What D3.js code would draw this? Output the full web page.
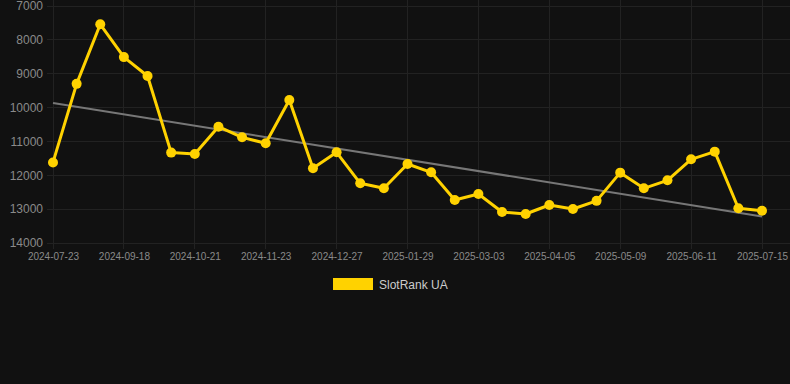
<!DOCTYPE html>
<html><head><meta charset="utf-8">
<script src="https://cdn.jsdelivr.net/npm/d3@7"></script>
<style>html,body{margin:0;padding:0;background:#111111;}svg{display:block;}</style>
</head><body>
<svg id="c" width="790" height="384"></svg>
<script>
const seriesName = "SlotRank UA";
const values = [11620, 9300, 7540, 8510, 9067, 11330, 11370, 10564, 10879, 11055, 9776, 11794, 11321, 12237, 12385, 11666, 11912, 12729, 12552, 13084, 13143, 12877, 12995, 12755, 11922, 12385, 12149, 11528, 11302, 12975, 13045];
const tickLabels = ["2024-07-23","2024-09-18","2024-10-21","2024-11-23","2024-12-27","2025-01-29","2025-03-03","2025-04-05","2025-05-09","2025-06-11","2025-07-15"];
const tickEvery = 3;
const yTicks = [7000, 8000, 9000, 10000, 11000, 12000, 13000, 14000];

(function () {
const svg = d3.select("#c");
const W = 790, pLeft = 53, pRight = 762, pTop = 6, pBottom = 243;
const idx = d3.range(values.length);
const x = d3.scaleLinear().domain([0, values.length - 1]).range([pLeft, pRight]);
const y = d3.scaleLinear().domain([7000, 14000]).range([pTop, pBottom]);

// grid
const g = svg.append("g");
g.selectAll(".hg").data(yTicks).join("line")
  .attr("x1", 47).attr("x2", W).attr("y1", d => y(d)).attr("y2", d => y(d))
  .attr("stroke", "#222").attr("stroke-width", 1).attr("shape-rendering", "crispEdges");
const tickIdx = tickLabels.map((_, i) => i * tickEvery);
g.selectAll(".vg").data(tickIdx).join("line")
  .attr("x1", d => x(d)).attr("x2", d => x(d)).attr("y1", 0).attr("y2", pBottom + 6)
  .attr("stroke", "#222").attr("stroke-width", 1).attr("shape-rendering", "crispEdges");

// y axis labels
const yAxis = d3.axisLeft(y).tickValues(yTicks).tickSize(0).tickPadding(0).tickFormat(d3.format("d"));
const ya = svg.append("g").attr("transform", `translate(43,0)`).call(yAxis);
ya.select(".domain").remove();
ya.selectAll("text").attr("fill", "#8a8a8a").style("font-family", "Liberation Sans, Arial, sans-serif").style("font-size", "12px");

// x axis labels
const xAxis = d3.axisBottom(x).tickValues(tickIdx).tickSize(0).tickPadding(0).tickFormat((d, i) => tickLabels[i]);
const xa = svg.append("g").attr("transform", `translate(0,${pBottom + 10})`).call(xAxis);
xa.select(".domain").remove();
xa.selectAll("text").attr("fill", "#8a8a8a").style("font-family", "Liberation Sans, Arial, sans-serif").style("font-size", "10px");

// trend line (least squares)
const n = values.length;
const mx = d3.mean(idx), my = d3.mean(values);
const slope = d3.sum(idx, i => (i - mx) * (values[i] - my)) / d3.sum(idx, i => (i - mx) ** 2);
const icpt = my - slope * mx;
svg.append("line")
  .attr("x1", x(0)).attr("y1", y(icpt))
  .attr("x2", x(n - 1)).attr("y2", y(icpt + slope * (n - 1)))
  .attr("stroke", "#777").attr("stroke-width", 2);

// series line
const color = "#FFD200";
svg.append("path").datum(values)
  .attr("d", d3.line().x((d, i) => x(i)).y(d => y(d)))
  .attr("fill", "none").attr("stroke", color).attr("stroke-width", 3).attr("stroke-linejoin", "round");
svg.selectAll(".pt").data(values).join("circle")
  .attr("cx", (d, i) => x(i)).attr("cy", d => y(d)).attr("r", 5).attr("fill", color);

// legend
const lg = svg.append("g");
lg.append("rect").attr("x", 333).attr("y", 278).attr("width", 40).attr("height", 12).attr("fill", color);
lg.append("text").attr("x", 379).attr("y", 288.5).text(seriesName)
  .attr("fill", "#cccccc").style("font-family", "Liberation Sans, Arial, sans-serif").style("font-size", "12px");
})();
</script>
</body></html>
